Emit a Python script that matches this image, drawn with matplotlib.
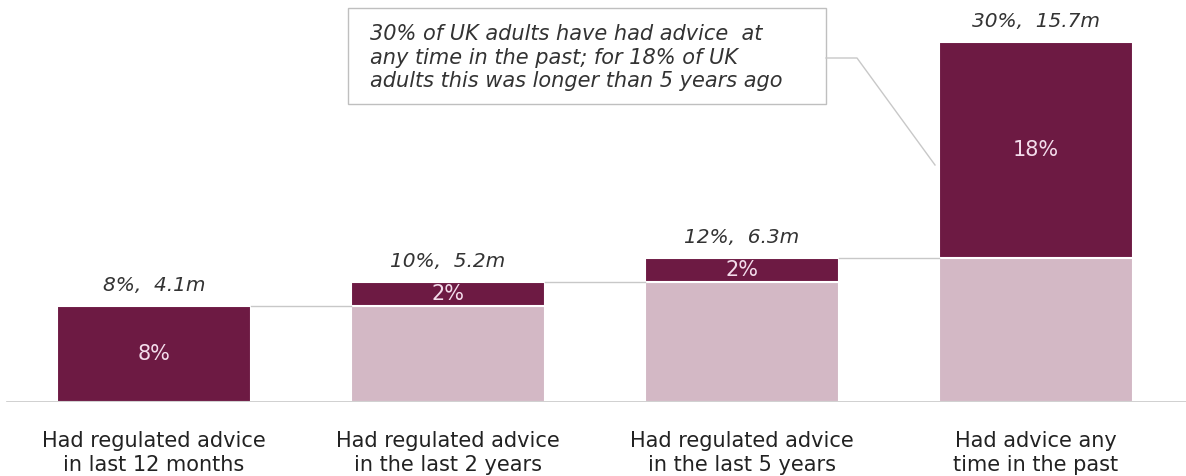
import matplotlib
matplotlib.use("Agg")
import matplotlib.pyplot as plt
from matplotlib.patches import Rectangle

plt.rcParams["font.family"] = ["DejaVu Sans"]

categories = ["Had regulated advice\nin last 12 months",
              "Had regulated advice\nin the last 2 years",
              "Had regulated advice\nin the last 5 years",
              "Had advice any\ntime in the past"]
base = [0, 8, 10, 12]          # carried over from previous bar
added = [8, 2, 2, 18]          # new share in each period
totals = [8, 10, 12, 30]
millions = [4.1, 5.2, 6.3, 15.7]

dark = "#6D1A43"
light = "#D3B8C5"
inner_txt = "#F3DCEB"
grey_txt = "#333333"

W, H = 1186, 476
fig = plt.figure(figsize=(W / 100, H / 100), dpi=100)
ax = fig.add_axes([0, 74 / H, 1, 402 / H])

x = list(range(len(categories)))
width = 0.66
ax.bar(x, base, width, color=light, edgecolor="white", linewidth=1.5)
ax.bar(x, added, width, bottom=base, color=dark, edgecolor="white", linewidth=1.5)

for i in x:
    ax.text(i, base[i] + added[i] / 2, f"{added[i]}%", ha="center", va="center",
            color=inner_txt, fontsize=15)
    ax.text(i, totals[i] + 1.7, f"{totals[i]}%,  {millions[i]}m", ha="center",
            va="center", color=grey_txt, fontsize=14.5, style="italic")
    ax.text(i, -4.25, categories[i], ha="center", va="center", color="#222222",
            fontsize=15, linespacing=1.25)

# connectors between bars
for i in x[:-1]:
    ax.plot([i + width / 2, i + 1 - width / 2], [totals[i], totals[i]],
            color="#C8C8C8", lw=1)

ax.axhline(0, xmin=0.006, color="#C8C8C8", lw=1.2)

ax.set_xlim(-0.524, 3.51)
ax.set_ylim(0, 33.5)
ax.axis("off")
ax.patch.set_visible(False)

# callout box
fig.patches.append(Rectangle((348 / W, 1 - 104 / H), 478 / W, 96 / H,
                             transform=fig.transFigure, facecolor="white",
                             edgecolor="#BFBFBF", lw=1))
fig.text(370 / W, 1 - 57.5 / H,
         "30% of UK adults have had advice  at\nany time in the past; for 18% of UK\nadults this was longer than 5 years ago",
         ha="left", va="center", fontsize=15, style="italic", color=grey_txt,
         linespacing=1.22)
fig.lines.append(plt.Line2D([826 / W, 857 / W, 935 / W],
                            [1 - 58 / H, 1 - 58 / H, 1 - 165 / H],
                            transform=fig.transFigure, color="#C8C8C8", lw=1))

fig.savefig("out.png", dpi=100)
